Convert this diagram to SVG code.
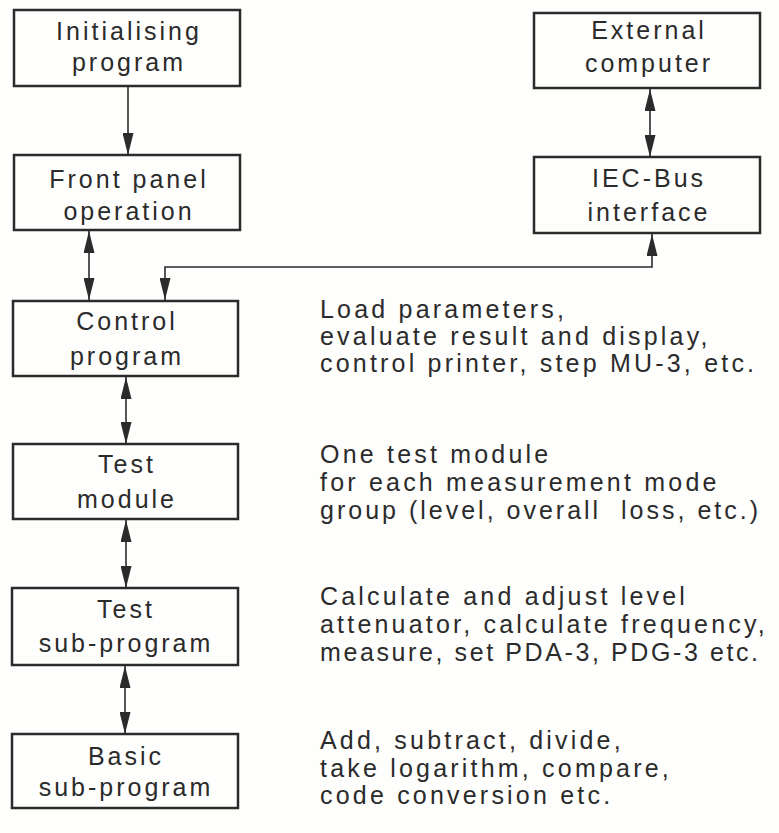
<svg xmlns="http://www.w3.org/2000/svg" width="779" height="833" viewBox="0 0 779 833">
<style>
.box{fill:none;stroke:#2b2b2b;stroke-width:2.5}
.t{font-family:"Liberation Sans","DejaVu Sans",sans-serif;font-size:25px;fill:#2b2b2b;letter-spacing:3px}
.n{letter-spacing:3.2px}
.c{text-anchor:middle}
.con{fill:none;stroke:#2b2b2b;stroke-width:1.6}
</style>
<defs>
<marker id="ah" markerUnits="userSpaceOnUse" viewBox="0 0 22 11" refX="22" refY="5.5" markerWidth="22" markerHeight="11" orient="auto-start-reverse">
<path d="M0,0 L22,5.5 L0,11 Z" fill="#2b2b2b"/>
</marker>
</defs>
<rect width="779" height="833" fill="#fefefc"/>
<g id="connectors">
<line class="con" x1="128" y1="86" x2="128" y2="155" marker-end="url(#ah)"/>
<line class="con" x1="89" y1="231" x2="89" y2="300" marker-start="url(#ah)" marker-end="url(#ah)"/>
<path class="con" d="M652,234 V267 H165 V300" marker-start="url(#ah)" marker-end="url(#ah)"/>
<line class="con" x1="650" y1="89" x2="650" y2="157" marker-start="url(#ah)" marker-end="url(#ah)"/>
<line class="con" x1="126" y1="377" x2="126" y2="444" marker-start="url(#ah)" marker-end="url(#ah)"/>
<line class="con" x1="126" y1="520" x2="126" y2="588" marker-start="url(#ah)" marker-end="url(#ah)"/>
<line class="con" x1="125" y1="666" x2="125" y2="734" marker-start="url(#ah)" marker-end="url(#ah)"/>
</g>
<g id="initialising">
<rect class="box" x="14" y="10" width="226" height="76"/>
<text class="t c" x="129" y="40">Initialising</text>
<text class="t c" x="129" y="71">program</text>
</g>
<g id="front-panel">
<rect class="box" x="14" y="155" width="226" height="75"/>
<text class="t c" x="129" y="188">Front panel</text>
<text class="t c" x="129" y="220">operation</text>
</g>
<g id="external">
<rect class="box" x="534" y="13" width="226" height="75"/>
<text class="t c" x="649" y="39">External</text>
<text class="t c" x="649" y="72">computer</text>
</g>
<g id="iec">
<rect class="box" x="534" y="157" width="226" height="76"/>
<text class="t c" x="649" y="187">IEC-Bus</text>
<text class="t c" x="649" y="221">interface</text>
</g>
<g id="control">
<rect class="box" x="13" y="301" width="225" height="75"/>
<text class="t c" x="127" y="330">Control</text>
<text class="t c" x="127" y="365">program</text>
</g>
<g id="test-module">
<rect class="box" x="13" y="444" width="225" height="75"/>
<text class="t c" x="127" y="473">Test</text>
<text class="t c" x="127" y="508">module</text>
</g>
<g id="test-sub">
<rect class="box" x="12" y="588" width="226" height="77"/>
<text class="t c" x="126" y="618">Test</text>
<text class="t c" x="126" y="652">sub-program</text>
</g>
<g id="basic-sub">
<rect class="box" x="12" y="734" width="226" height="74"/>
<text class="t c" x="126" y="765">Basic</text>
<text class="t c" x="126" y="796">sub-program</text>
</g>
<g id="notes">
<text class="t n" x="320" y="318">Load parameters,</text>
<text class="t n" x="320" y="345">evaluate result and display,</text>
<text class="t n" x="320" y="372">control printer, step MU-3, etc.</text>
<text class="t n" x="320" y="463">One test module</text>
<text class="t n" x="320" y="491">for each measurement mode</text>
<text class="t n" x="320" y="519" xml:space="preserve" style="letter-spacing:3px">group (level, overall  loss, etc.)</text>
<text class="t n" x="320" y="605">Calculate and adjust level</text>
<text class="t n" x="320" y="633">attenuator, calculate frequency,</text>
<text class="t n" x="320" y="661" style="letter-spacing:2.6px">measure, set PDA-3, PDG-3 etc.</text>
<text class="t n" x="320" y="749">Add, subtract, divide,</text>
<text class="t n" x="320" y="777">take logarithm, compare,</text>
<text class="t n" x="320" y="804">code conversion etc.</text>
</g>
</svg>
